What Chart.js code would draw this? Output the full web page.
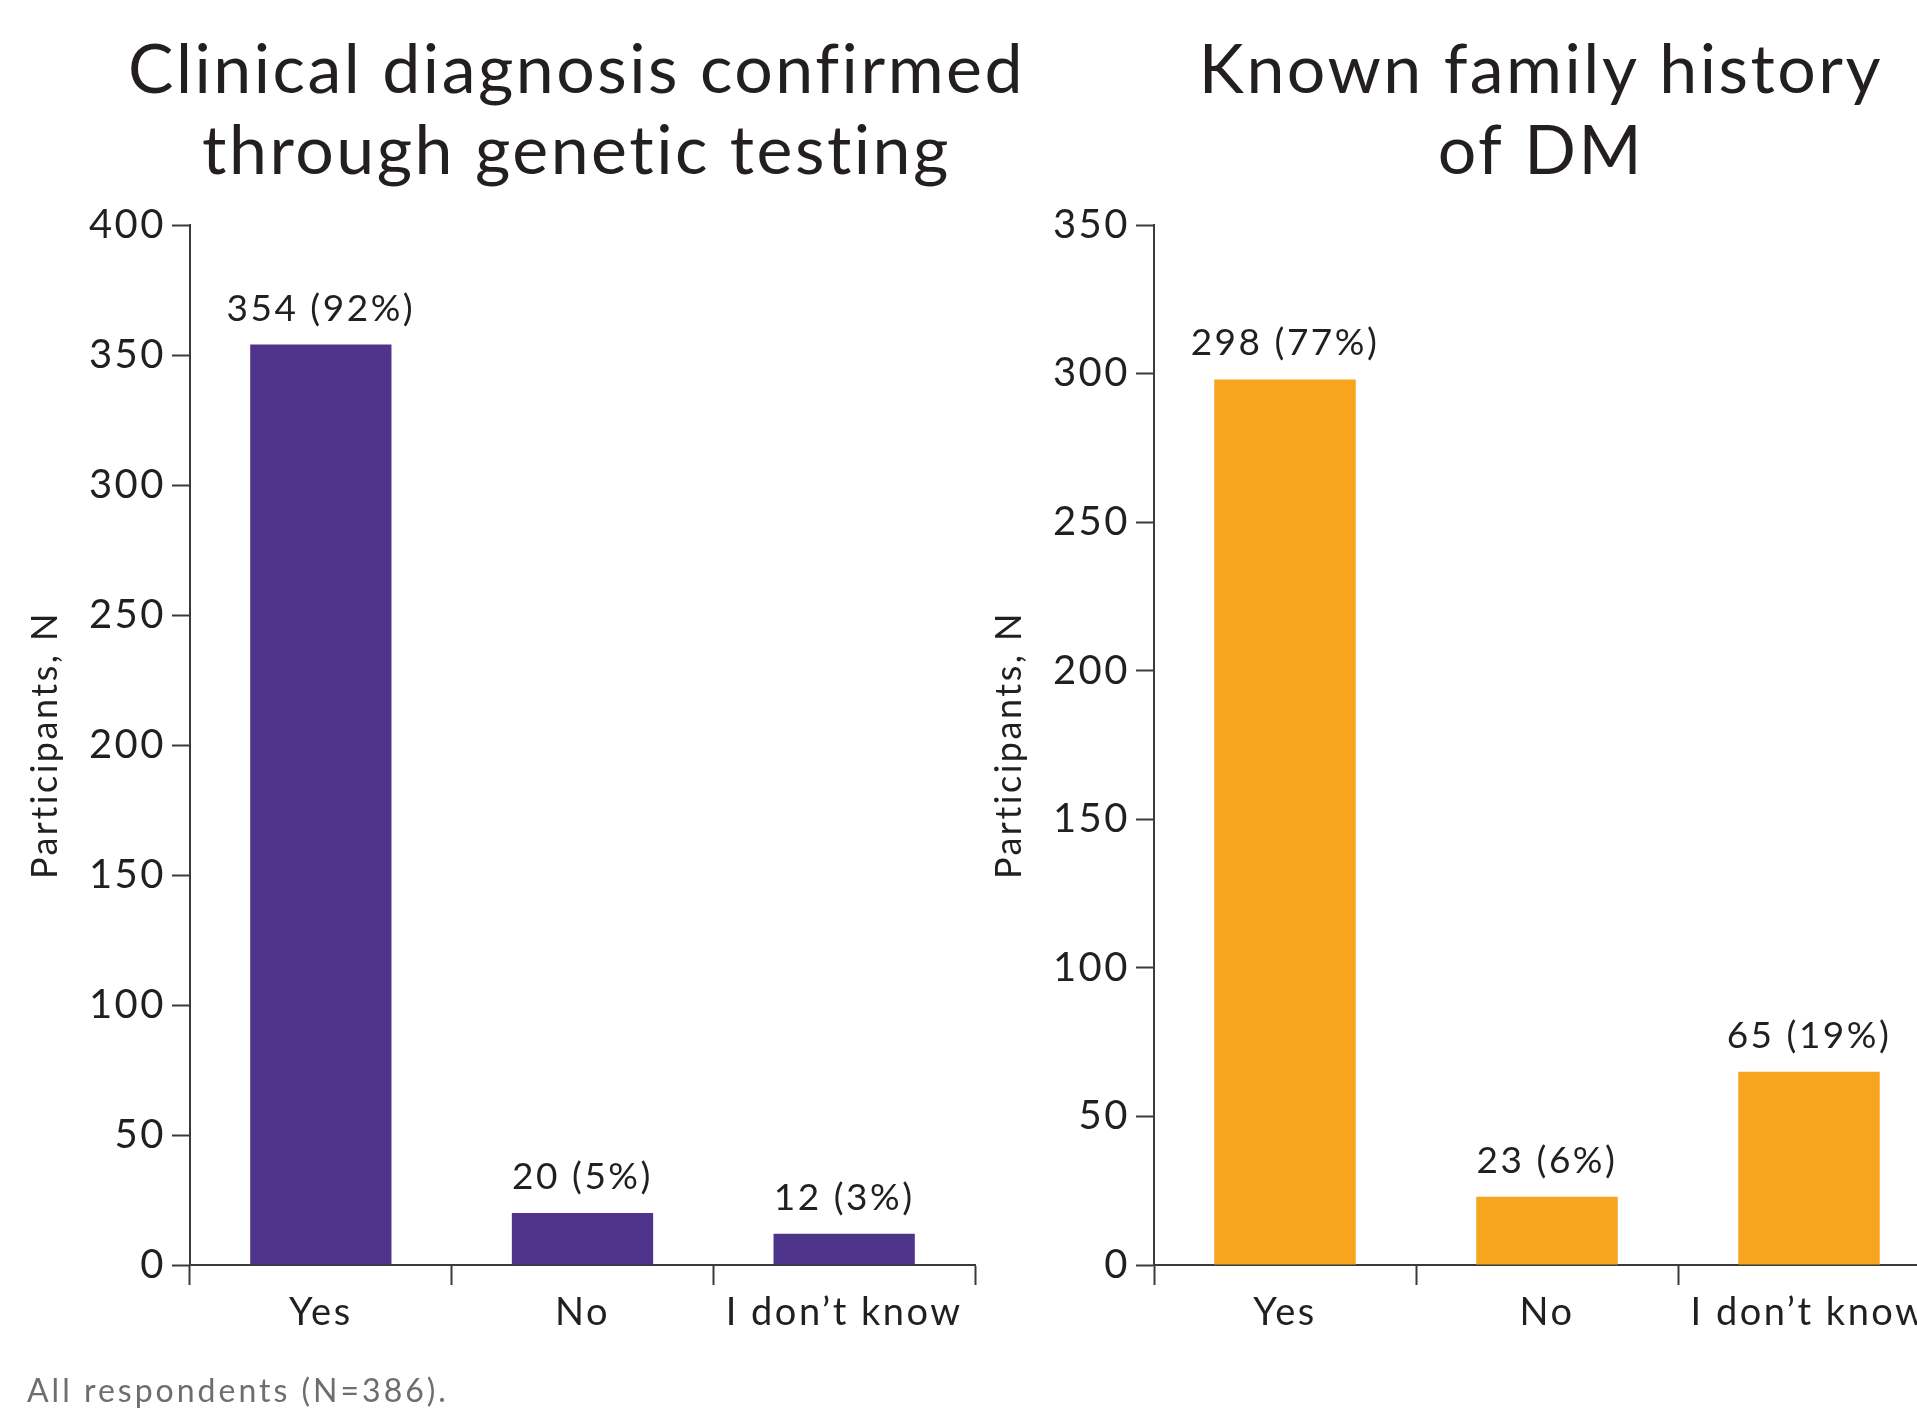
<!DOCTYPE html>
<html>
<head>
<meta charset="utf-8">
<title>Participants survey</title>
<script src="https://cdn.jsdelivr.net/npm/chart.js@4.4.1/dist/chart.umd.min.js"></script>
<style>
  html, body { margin: 0; padding: 0; background: #fff; overflow: hidden; }
  body { width: 1917px; height: 1410px; position: relative; }
  canvas { position: absolute; top: 0; }
  #geneticChart { left: 0; }
  #familyChart { left: 980px; }
  .note { position: absolute; left: 27px; top: 1373px; font: 32px Lato, sans-serif; letter-spacing: 3px; color: #6d6e71; line-height: 34px; }
</style>
</head>
<body>
<canvas id="geneticChart" width="1060" height="1410"></canvas>
<canvas id="familyChart" width="980" height="1410"></canvas>
<div class="note">All respondents (N=386).</div>
<script>
const categories = ['Yes', 'No', 'I don\u2019t know'];
const geneticCounts = [354, 20, 12];
const geneticPercents = [92, 5, 3];
const familyCounts = [298, 23, 65];
const familyPercents = [77, 6, 19];
const geneticMax = 400;
const familyMax = 350;
const tickStep = 50;

const ink = '#231f20';
const axisColor = '#3a3a3a';
Chart.defaults.font.family = 'Lato, sans-serif';
Chart.defaults.color = ink;

// a little tracking on all canvas text, Lato runs narrow otherwise
const textSpacing = {
    id: 'textSpacing',
    beforeDraw(chart) {
        chart.ctx.letterSpacing = '2.5px';
    }
};

// two-line heading over the plot; the built-in title squeezes long lines to the plot width
const headline = {
    id: 'headline',
    afterDraw(chart, args, opts) {
        const ctx = chart.ctx;
        const area = chart.chartArea;
        const cx = (area.left + area.right) / 2 - 6;
        ctx.save();
        ctx.font = '68px Lato, sans-serif';
        ctx.fillStyle = ink;
        ctx.textAlign = 'center';
        ctx.textBaseline = 'middle';
        opts.lines.forEach((line, i) => {
            ctx.fillText(line, cx, 71 + i * 81);
        });
        ctx.restore();
    }
};

// writes "N (P%)" above each bar
const barValueLabels = {
    id: 'barValueLabels',
    afterDatasetsDraw(chart, args, opts) {
        const ctx = chart.ctx;
        const meta = chart.getDatasetMeta(0);
        ctx.save();
        ctx.font = '37px Lato, sans-serif';
        ctx.fillStyle = ink;
        ctx.textAlign = 'center';
        ctx.textBaseline = 'middle';
        meta.data.forEach((bar, i) => {
            ctx.fillText(opts.counts[i] + ' (' + opts.percents[i] + '%)', bar.x, bar.y - 36);
        });
        ctx.restore();
    }
};

function makeChart(id, titleLines, counts, percents, color, yMax, yWidth, rightPad, yTitlePad) {
    return new Chart(document.getElementById(id), {
        type: 'bar',
        data: {
            labels: categories,
            datasets: [{
                data: counts,
                backgroundColor: color,
                borderWidth: 0,
                barPercentage: 0.54,
                categoryPercentage: 1
            }]
        },
        plugins: [textSpacing, headline, barValueLabels],
        options: {
            responsive: false,
            animation: false,
            layout: { padding: { top: 225, left: 0, right: rightPad, bottom: 0 } },
            plugins: {
                legend: { display: false },
                tooltip: { enabled: false },
                title: { display: false },
                headline: { lines: titleLines },
                barValueLabels: { counts: counts, percents: percents }
            },
            scales: {
                x: {
                    grid: {
                        offset: true,
                        drawOnChartArea: false,
                        tickLength: 20,
                        tickWidth: 2,
                        tickColor: axisColor
                    },
                    border: { color: axisColor, width: 2 },
                    ticks: { font: { size: 38 }, color: ink, padding: 5, maxRotation: 0, autoSkip: false },
                    afterFit(scale) { scale.height = 145; }
                },
                y: {
                    min: 0,
                    max: yMax,
                    grid: {
                        drawOnChartArea: false,
                        tickLength: 18,
                        tickWidth: 2,
                        tickColor: axisColor
                    },
                    border: { color: axisColor, width: 2 },
                    ticks: { stepSize: tickStep, font: { size: 40 }, color: ink, padding: 6 },
                    title: {
                        display: true,
                        text: 'Participants, N',
                        color: ink,
                        font: { size: 36 },
                        padding: { top: yTitlePad, bottom: 0 }
                    },
                    afterFit(scale) { scale.width = yWidth; }
                }
            }
        }
    });
}

makeChart('geneticChart', ['Clinical diagnosis confirmed', 'through genetic testing'],
    geneticCounts, geneticPercents, '#4f348b', geneticMax, 190, 85, 24);
makeChart('familyChart', ['Known family history', 'of DM'],
    familyCounts, familyPercents, '#f7a41f', familyMax, 174, 20, 8);
</script>
</body>
</html>
